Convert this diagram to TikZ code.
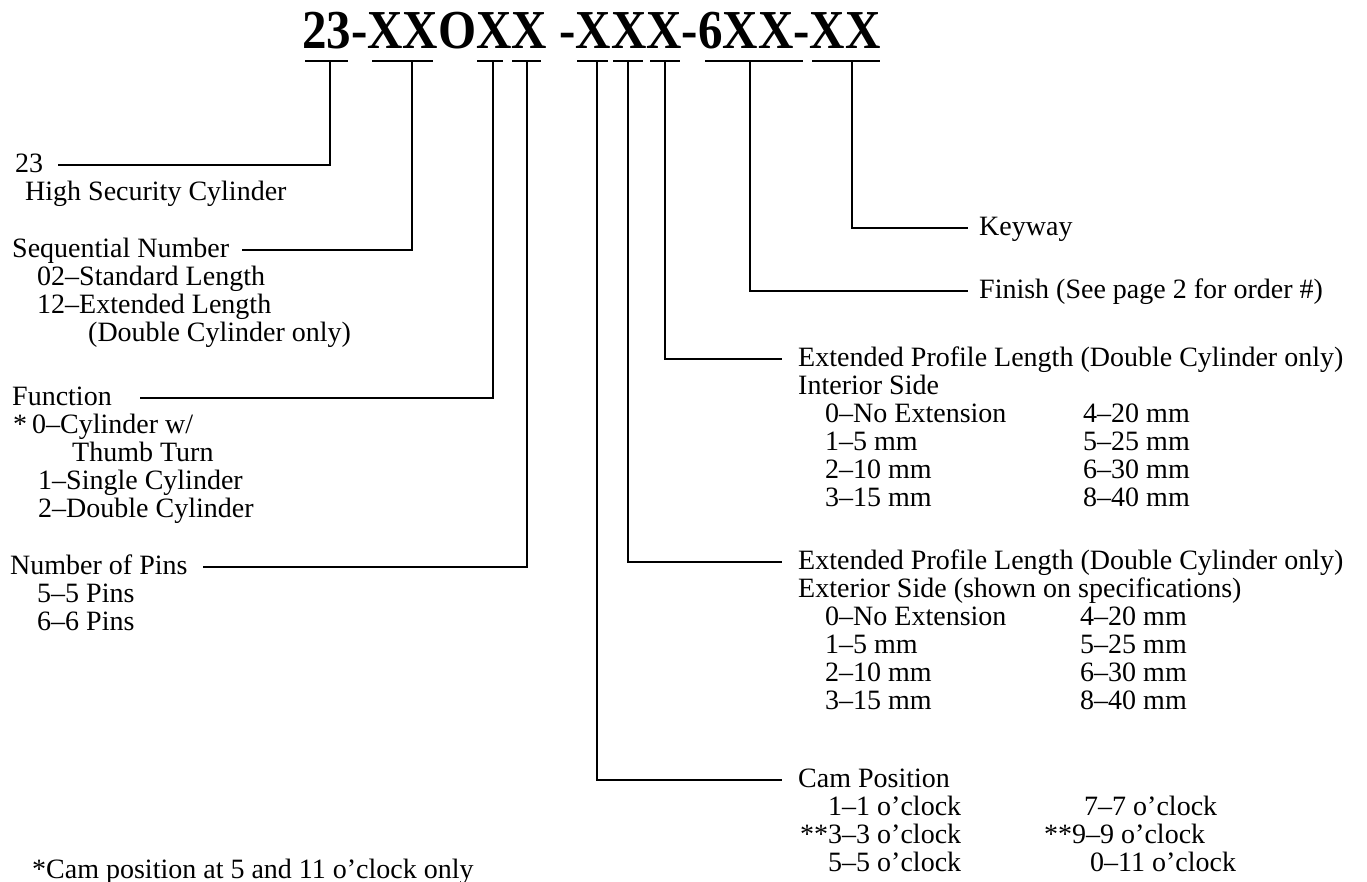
\documentclass[tikz,border=0pt]{standalone}
\usepackage{fontspec}
\setmainfont{Liberation Serif}
\usepackage{graphicx}
\begin{document}
\tikzset{
  lbl/.style={anchor=base west, inner sep=0pt, font=\fontsize{28}{28}\selectfont},
  conn/.style={line width=1.8pt},
  uline/.style={line width=2.6pt},
  ttl/.style={anchor=base west, inner sep=0pt, font=\fontsize{49}{49}\selectfont\bfseries}
}
\begin{tikzpicture}[x=1pt,y=-1pt]
\fill[white] (0,0) rectangle (1367,881);
\useasboundingbox (0,0) rectangle (1367,881);

% title
\node[ttl] (title) at (302,48) {\scalebox{1}[1.12]{23-XXOXX -XXX-6XX-XX}};

% underlines
\draw[uline] (305,61) -- (348,61);
\draw[uline] (372,61) -- (433,61);
\draw[uline] (477,61) -- (503,61);
\draw[uline] (512,61) -- (541,61);
\draw[uline] (577,61) -- (608,61);
\draw[uline] (613,61) -- (643,61);
\draw[uline] (650,61) -- (680,61);
\draw[uline] (705,61) -- (803,61);
\draw[uline] (812,61) -- (880,61);

% tick points
\coordinate (t23) at (330,61);
\coordinate (tseq) at (412,61);
\coordinate (tfun) at (493,61);
\coordinate (tpin) at (527,61);
\coordinate (tcam) at (597,61);
\coordinate (text) at (628,61);
\coordinate (tint) at (665,61);
\coordinate (tfin) at (750,61);
\coordinate (tkey) at (852,61);

% connector ends
\coordinate (e23) at (58,165);
\coordinate (eseq) at (242,250);
\coordinate (efun) at (140,398);
\coordinate (epin) at (203,567);
\coordinate (ecam) at (782,780);
\coordinate (eext) at (782,562);
\coordinate (eint) at (782,359);
\coordinate (efin) at (968,291);
\coordinate (ekey) at (968,228);

\draw[conn] (t23) |- (e23);
\draw[conn] (tseq) |- (eseq);
\draw[conn] (tfun) |- (efun);
\draw[conn] (tpin) |- (epin);
\draw[conn] (tcam) |- (ecam);
\draw[conn] (text) |- (eext);
\draw[conn] (tint) |- (eint);
\draw[conn] (tfin) |- (efin);
\draw[conn] (tkey) |- (ekey);

% left labels
\node[lbl] (n23) at (15,172) {23};
\node[lbl] (hsc) at (25,200) {High Security Cylinder};
\node[lbl] (seq) at (12,257) {Sequential Number};
\node[lbl] (seqa) at (37,285) {02\textendash Standard Length};
\node[lbl] (seqb) at (37,313) {12\textendash Extended Length};
\node[lbl] (seqc) at (88,341) {(Double Cylinder only)};
\node[lbl] (fun) at (12,405) {Function};
\node[lbl] (funs) at (13,433) {*};
\node[lbl] (funa) at (32,433) {0\textendash Cylinder w/};
\node[lbl] (funb) at (72,461) {Thumb Turn};
\node[lbl] (func) at (38,489) {1\textendash Single Cylinder};
\node[lbl] (fund) at (38,517) {2\textendash Double Cylinder};
\node[lbl] (pin) at (10,574) {Number of Pins};
\node[lbl] (pina) at (37,602) {5\textendash 5 Pins};
\node[lbl] (pinb) at (37,630) {6\textendash 6 Pins};
\node[lbl] (note) at (32,878) {*Cam position at 5 and 11 o'clock only};

% right labels
\node[lbl] (key) at (979,235) {Keyway};
\node[lbl] (fin) at (979,298) {Finish (See page 2 for order \#)};

\node[lbl] (int) at (798,366) {Extended Profile Length (Double Cylinder only)};
\node[lbl] (intt) at (798,394) {Interior Side};
\node[lbl] (inta) at (825,422) {0\textendash No Extension};
\node[lbl] (intb) at (825,450) {1\textendash 5 mm};
\node[lbl] (intc) at (825,478) {2\textendash 10 mm};
\node[lbl] (intd) at (825,506) {3\textendash 15 mm};
\node[lbl] (inte) at (1083,422) {4\textendash 20 mm};
\node[lbl] (intf) at (1083,450) {5\textendash 25 mm};
\node[lbl] (intg) at (1083,478) {6\textendash 30 mm};
\node[lbl] (inth) at (1083,506) {8\textendash 40 mm};

\node[lbl] (ext) at (798,569) {Extended Profile Length (Double Cylinder only)};
\node[lbl] (extt) at (798,597) {Exterior Side (shown on specifications)};
\node[lbl] (exta) at (825,625) {0\textendash No Extension};
\node[lbl] (extb) at (825,653) {1\textendash 5 mm};
\node[lbl] (extc) at (825,681) {2\textendash 10 mm};
\node[lbl] (extd) at (825,709) {3\textendash 15 mm};
\node[lbl] (exte) at (1080,625) {4\textendash 20 mm};
\node[lbl] (extf) at (1080,653) {5\textendash 25 mm};
\node[lbl] (extg) at (1080,681) {6\textendash 30 mm};
\node[lbl] (exth) at (1080,709) {8\textendash 40 mm};

\node[lbl] (cam) at (798,787) {Cam Position};
\node[lbl] (cama) at (828,815) {1\textendash 1 o'clock};
\node[lbl] (camb) at (800,843) {**3\textendash 3 o'clock};
\node[lbl] (camc) at (828,871) {5\textendash 5 o'clock};
\node[lbl] (camd) at (1084,815) {7\textendash 7 o'clock};
\node[lbl] (came) at (1044,843) {**9\textendash 9 o'clock};
\node[lbl] (camf) at (1090,871) {0\textendash 11 o'clock};
\end{tikzpicture}
\end{document}
